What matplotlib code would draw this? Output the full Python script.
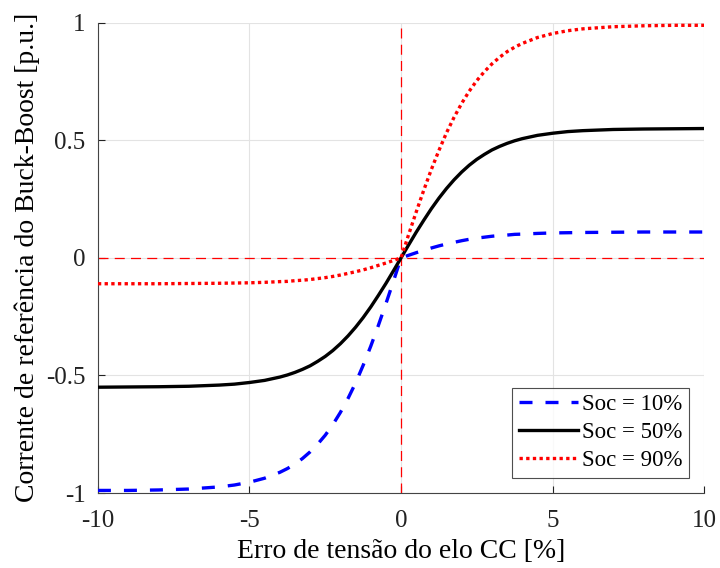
import matplotlib
matplotlib.use("Agg")
import matplotlib.pyplot as plt

plt.rcParams['font.family'] = ['Liberation Serif', 'DejaVu Serif']
plt.rcParams['axes.unicode_minus'] = False

x = [-10, -9, -8, -7, -6, -5.5, -5, -4.5, -4, -3.75, -3.5, -3.25, -3, -2.75, -2.5, -2.25,
     -2, -1.75, -1.5, -1.25, -1, -0.75, -0.5, -0.25, 0,
     0.25, 0.5, 0.75, 1, 1.25, 1.5, 1.75, 2, 2.25, 2.5, 2.75, 3, 3.25, 3.5, 3.75, 4,
     4.5, 5, 5.5, 6, 7, 8, 9, 10]

soc10 = [-0.989, -0.989, -0.987, -0.983, -0.974, -0.966, -0.954, -0.937, -0.912, -0.896,
         -0.877, -0.853, -0.825, -0.792, -0.754, -0.709, -0.657, -0.598, -0.532, -0.457,
         -0.376, -0.288, -0.195, -0.099, 0.0,
         0.011, 0.022, 0.032, 0.042, 0.051, 0.059, 0.066, 0.073, 0.079, 0.084, 0.088,
         0.092, 0.095, 0.097, 0.100, 0.101, 0.104, 0.106, 0.107, 0.108, 0.109, 0.110,
         0.110, 0.110]

soc50 = [-0.550, -0.549, -0.548, -0.546, -0.541, -0.537, -0.530, -0.521, -0.507, -0.498,
         -0.487, -0.474, -0.459, -0.440, -0.419, -0.394, -0.365, -0.332, -0.295, -0.254,
         -0.209, -0.160, -0.109, -0.055, 0.0,
         0.055, 0.109, 0.160, 0.209, 0.254, 0.295, 0.332, 0.365, 0.394, 0.419, 0.440,
         0.459, 0.474, 0.487, 0.498, 0.507, 0.521, 0.530, 0.537, 0.541, 0.546, 0.548,
         0.549, 0.550]

soc90 = [-0.110, -0.110, -0.110, -0.109, -0.108, -0.107, -0.106, -0.104, -0.101, -0.100,
         -0.097, -0.095, -0.092, -0.088, -0.084, -0.079, -0.073, -0.066, -0.059, -0.051,
         -0.042, -0.032, -0.022, -0.011, 0.0,
         0.099, 0.195, 0.288, 0.376, 0.457, 0.532, 0.598, 0.657, 0.709, 0.754, 0.792,
         0.825, 0.853, 0.877, 0.896, 0.912, 0.937, 0.954, 0.966, 0.974, 0.983, 0.987,
         0.989, 0.989]

labels = ['Soc = 10%', 'Soc = 50%', 'Soc = 90%']
xticks = [-10, -5, 0, 5, 10]
xticklabels = ['-10', '-5', '0', '5', '10']
yticks = [-1, -0.5, 0, 0.5, 1]
yticklabels = ['-1', '-0.5', '0', '0.5', '1']

fig = plt.figure(figsize=(7.2, 5.68), dpi=100)
ax = fig.add_axes([0.136, 0.132, 0.842, 0.828])

ax.axhline(0, color='red', lw=0.9, ls=(0, (8, 5)), zorder=1)
ax.axvline(0, color='red', lw=0.9, ls=(0, (8, 5)), zorder=1)

ax.plot(x, soc10, color='blue', lw=2.4, ls=(0, (3.9, 3.9)), label=labels[0], zorder=3)
ax.plot(x, soc50, color='black', lw=2.4, ls='-', label=labels[1], zorder=3)
ax.plot(x, soc90, color='red', lw=2.4, ls=(0, (1, 1)), label=labels[2], zorder=3)

ax.set_xlim(-10, 10)
ax.set_ylim(-1, 1)
ax.set_xticks(xticks)
ax.set_xticklabels(xticklabels)
ax.set_yticks(yticks)
ax.set_yticklabels(yticklabels)
ax.grid(True, color='#e3e3e3', lw=0.8)
ax.set_axisbelow(True)
ax.spines['top'].set_visible(False)
ax.spines['right'].set_visible(False)
for s in ('left', 'bottom'):
    ax.spines[s].set_color('#444444')
    ax.spines[s].set_linewidth(0.8)
ax.tick_params(direction='in', length=5, labelsize=18, colors='#222222')
ax.tick_params(axis='x', pad=12)
ax.tick_params(axis='y', pad=9)

ax.set_xlabel('Erro de tensão do elo CC [%]', fontsize=20, labelpad=5)
ax.set_ylabel('Corrente de referência do Buck-Boost [p.u.]', fontsize=20, labelpad=4)

leg = ax.legend(loc='lower right', fontsize=16.5, frameon=True, fancybox=False,
                edgecolor='#222222', handlelength=2.6, handletextpad=0.15,
                borderpad=0.3, labelspacing=0.3, borderaxespad=0.65)
leg.get_frame().set_linewidth(0.8)

fig.savefig('out.png', dpi=100)
